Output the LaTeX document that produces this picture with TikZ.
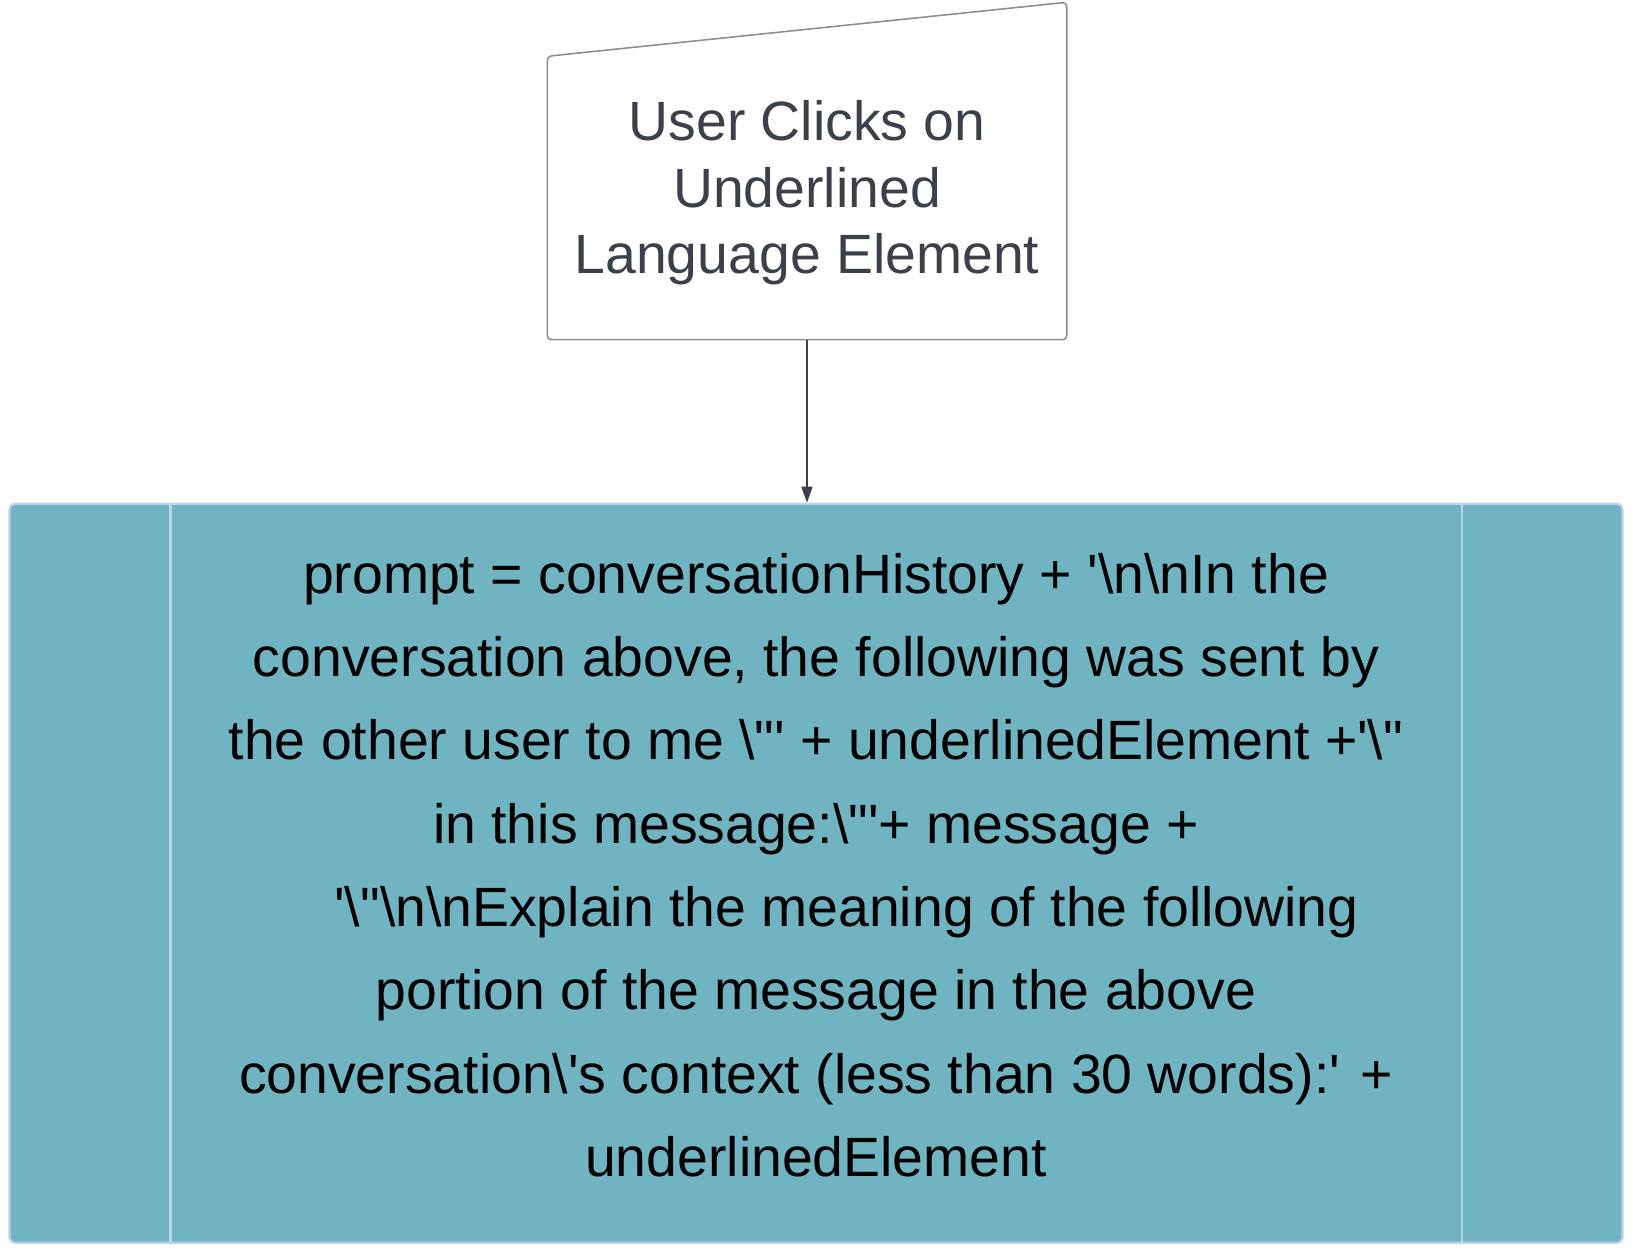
\documentclass[tikz,border=0pt]{standalone}
\usepackage{fontspec}
\setmainfont{Liberation Sans}
\usetikzlibrary{arrows.meta, positioning}
\definecolor{inkgray}{HTML}{3A414A}
\definecolor{boxgray}{HTML}{8A8F96}
\definecolor{promptfill}{HTML}{70B3C1}
\definecolor{promptline}{HTML}{B8D3F0}
\newcommand{\bsl}{\textbackslash}
\newcommand{\squo}{\textquotesingle}
\newcommand{\dquo}{\textquotedbl}
\tikzstyle{inputbox} = [minimum width=5.18cm, minimum height=2.82cm, draw=none, text=inkgray, align=center, text depth=0.22cm, font=\fontsize{15.75}{18.8}\selectfont]
\tikzstyle{processbox} = [minimum width=16.13cm, minimum height=7.39cm, fill=promptfill, draw=promptline, line width=0.6pt, rounded corners=0.6mm, align=center, text depth=0.17cm, font=\fontsize{15.75}{23.7}\selectfont]
\tikzstyle{arrow} = [draw=inkgray, line width=0.45pt, -{Triangle[length=1.6mm, width=1.1mm]}]

\begin{document}
\begin{tikzpicture}
    \useasboundingbox (0,0) rectangle (16.33,-12.57);

    \node (click) [inputbox] at (8.07,-1.98) {User Clicks on\\ Underlined\\ Language Element};
    \draw[boxgray, line width=0.45pt, rounded corners=0.4mm] (click.south west) -- (click.north west) -- ([yshift=0.54cm]click.north east) -- (click.south east) -- cycle;

    \node (prompt) [processbox, below=1.63cm of click, xshift=0.09cm] {prompt = conversationHistory + \squo\bsl n\bsl nIn the\\
        conversation above, the following was sent by\\
        the other user to me \bsl\dquo\squo{} + underlinedElement +\squo\bsl\dquo\\
        in this message:\bsl\dquo\squo+ message +\\
        \hspace*{0.61cm}\squo\bsl\dquo\bsl n\bsl nExplain the meaning of the following\\
        portion of the message in the above\\
        conversation\bsl\squo s context (less than 30 words):\squo{} +\\
        underlinedElement};
    \draw[promptline, line width=0.6pt] ([xshift=1.62cm]prompt.north west) -- ([xshift=1.62cm]prompt.south west);
    \draw[promptline, line width=0.6pt] ([xshift=-1.62cm]prompt.north east) -- ([xshift=-1.62cm]prompt.south east);

    \draw[arrow] (click.south) -- (click.south |- prompt.north);

\end{tikzpicture}
\end{document}
